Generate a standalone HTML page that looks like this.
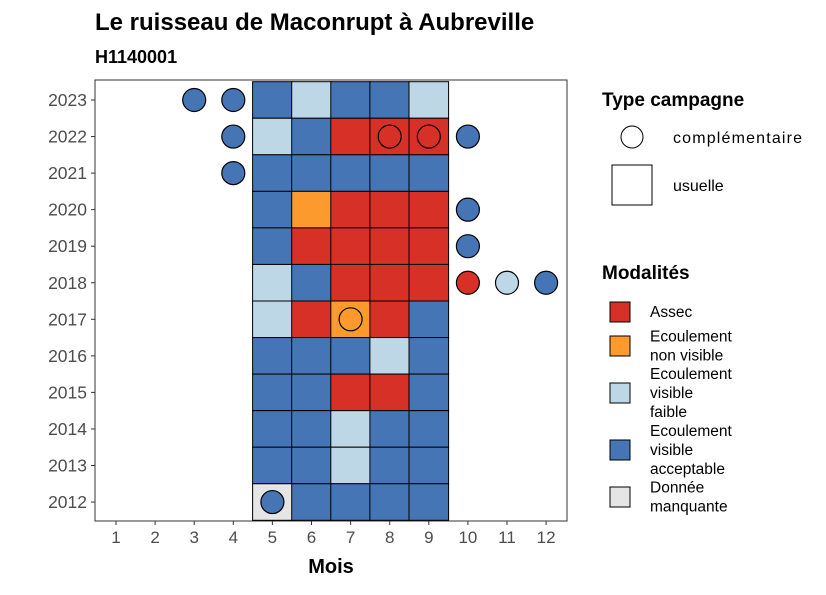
<!DOCTYPE html>
<html><head><meta charset="utf-8"><style>
body{margin:0;background:#fff;font-family:"Liberation Sans",sans-serif}
</style></head><body>
<svg id="c" width="826" height="590" xmlns="http://www.w3.org/2000/svg" font-family="Liberation Sans, sans-serif">
<text x="95" y="30" font-size="24" font-weight="bold">Le ruisseau de Maconrupt à Aubreville</text>
<text x="95" y="63" font-size="18" font-weight="bold">H1140001</text>
<rect x="95" y="80" width="472" height="441" fill="#fff" stroke="#333" stroke-width="1"/>
<g id="tiles"></g><g id="pts"></g><g id="axes"></g>
<text x="331" y="573" font-size="20" font-weight="bold" text-anchor="middle">Mois</text>
<g>
<text x="602" y="106" font-size="19" font-weight="bold">Type campagne</text>
<circle cx="632" cy="137" r="11" fill="#fff" stroke="#000"/>
<text x="673" y="143" font-size="16" textLength="129">complémentaire</text>
<rect x="612" y="165" width="40" height="40" fill="#fff" stroke="#000"/>
<text x="673" y="191" font-size="16">usuelle</text>
</g>
<g id="leg2">
<text x="602" y="279" font-size="19" font-weight="bold">Modalités</text>
</g>
</svg>
<script>
const months=[1,2,3,4,5,6,7,8,9,10,11,12];
const years=[2012,2013,2014,2015,2016,2017,2018,2019,2020,2021,2022,2023];
const tileYears=[2023,2023,2023,2023,2023,2022,2022,2022,2022,2022,2021,2021,2021,2021,2021,2020,2020,2020,2020,2020,2019,2019,2019,2019,2019,2018,2018,2018,2018,2018,2017,2017,2017,2017,2017,2016,2016,2016,2016,2016,2015,2015,2015,2015,2015,2014,2014,2014,2014,2014,2013,2013,2013,2013,2013,2012,2012,2012,2012,2012];
const tileMonths=[5,6,7,8,9,5,6,7,8,9,5,6,7,8,9,5,6,7,8,9,5,6,7,8,9,5,6,7,8,9,5,6,7,8,9,5,6,7,8,9,5,6,7,8,9,5,6,7,8,9,5,6,7,8,9,5,6,7,8,9];
const tileMods=["D","L","D","D","L","L","D","A","A","A","D","D","D","D","D","D","O","A","A","A","D","A","A","A","A","L","D","A","A","A","L","A","O","A","D","D","D","D","L","D","D","D","A","A","D","D","D","L","D","D","D","D","L","D","D","M","D","D","D","D"];
const ptYears=[2023,2023,2022,2022,2022,2022,2021,2020,2019,2018,2018,2018,2017,2012];
const ptMonths=[3,4,4,8,9,10,4,10,10,10,11,12,7,5];
const ptMods=["D","D","D","A","A","D","D","D","D","A","L","D","O","D"];
const modKeys=["A","O","L","D","M"];
const modLabels=[["Assec"],["Ecoulement","non visible"],["Ecoulement","visible","faible"],["Ecoulement","visible","acceptable"],["Donnée","manquante"]];
const col={A:"#d73027",O:"#fd9a2e",L:"#bdd7e7",D:"#4575b4",M:"#e5e5e5"};
const NS="http://www.w3.org/2000/svg";
const xs=m=>116+(m-1)*39.1, ys=y=>100+(2023-y)*36.55;
function mk(t,a,p){const e=document.createElementNS(NS,t);for(const k in a)e.setAttribute(k,a[k]);p.appendChild(e);return e;}
const T=document.getElementById('tiles');
tileYears.forEach((y,i)=>{const r=mk('rect',{x:xs(tileMonths[i])-19.8,y:ys(y)-18.3,width:39.6,height:36.55,fill:col[tileMods[i]],stroke:'#000','stroke-width':1},T);

});
const P=document.getElementById('pts');
ptYears.forEach((y,i)=>{const c=mk('circle',{cx:xs(ptMonths[i]),cy:ys(y),r:11.5,fill:col[ptMods[i]],stroke:'#000','stroke-width':1.2},P);

});
const A=document.getElementById('axes');
months.forEach(m=>{mk('line',{x1:xs(m),x2:xs(m),y1:521,y2:525,stroke:'#333'},A);
const t=mk('text',{x:xs(m),y:543,'font-size':17,fill:'#4d4d4d','text-anchor':'middle'},A);t.textContent=m;

});
years.forEach(y=>{mk('line',{x1:91,x2:95,y1:ys(y),y2:ys(y),stroke:'#333'},A);
const t=mk('text',{x:87,y:ys(y)+6,'font-size':17.5,fill:'#4d4d4d','text-anchor':'end'},A);t.textContent=y;

});
const L=document.getElementById('leg2');
const ky=[312,346,393,450,497];
modKeys.forEach((k,i)=>{const r=mk('rect',{x:610,y:ky[i]-10,width:20,height:20,fill:col[k],stroke:'#000'},L);


const ls=modLabels[i],n=ls.length;
ls.forEach((s,j)=>{const t=mk('text',{x:650,y:ky[i]+5+(j-(n-1)/2)*19,'font-size':15.5},L);t.textContent=s;

});});
</script>
</body></html>
